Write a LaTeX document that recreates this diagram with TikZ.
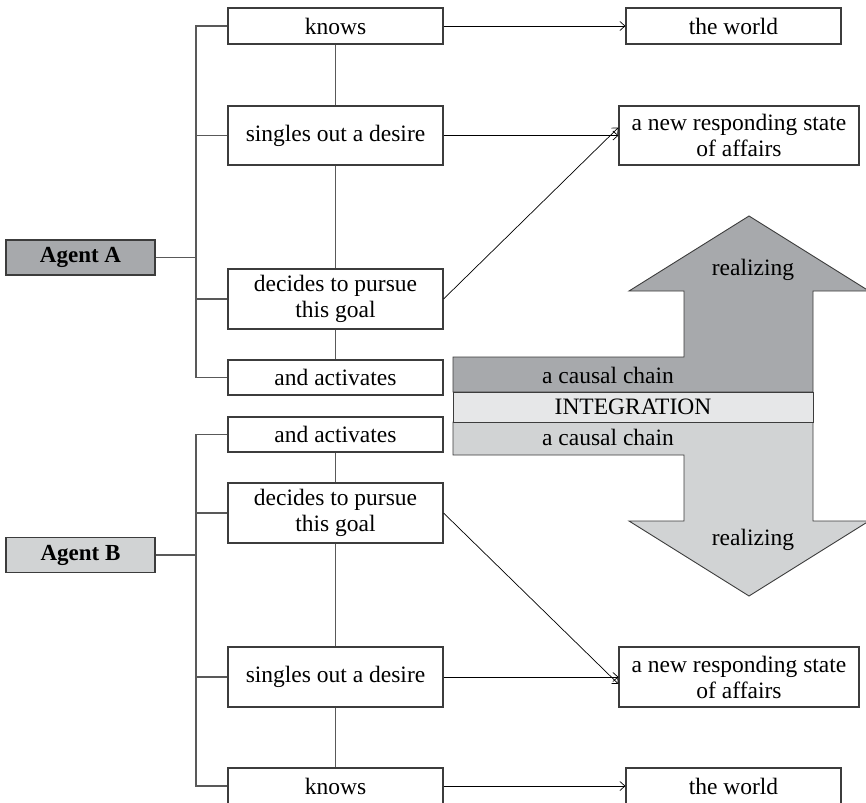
\documentclass[tikz,border=0pt]{standalone}
\usepackage{fontspec}
\setmainfont{Liberation Serif}
\usetikzlibrary{arrows.meta}
\definecolor{agentdark}{HTML}{A7A9AC}
\definecolor{agentlight}{HTML}{D1D3D4}
\definecolor{bandpale}{HTML}{E6E7E8}
\definecolor{rulegray}{HTML}{3C3C3C}
\begin{document}
\begin{tikzpicture}[x=1pt,y=-1pt,
  every node/.style={font=\fontsize{23.5}{26}\selectfont},
  stepbox/.style={draw=rulegray,line width=1.1pt,fill=white,inner sep=0pt,
    minimum width=215pt,align=center},
  widebox/.style={stepbox,minimum width=240pt},
  agentbox/.style={draw=rulegray,line width=1.1pt,inner sep=0pt,
    minimum width=149pt,minimum height=35pt,font=\fontsize{23}{26}\selectfont\bfseries},
  tree/.style={draw=rulegray!85,line width=1.2pt},
  link/.style={draw=black,line width=0.7pt,-{Straight Barb[length=5pt,width=9pt]}},
  bigarrow/.style={draw=rulegray,line width=0.9pt},
  plain/.style={inner sep=0pt}]
\useasboundingbox (0,0) rectangle (866,802);

% ---- integration arrows ----
\path[bigarrow,fill=agentdark] (453,392) -- (453,357) -- (684,357) -- (684,291)
  -- (629,291) -- (749,216) -- (869,291) -- (813,291) -- (813,392) -- cycle;
\path[bigarrow,fill=agentlight] (453,422) -- (813,422) -- (813,521) -- (869,521)
  -- (749,596) -- (629,521) -- (684,521) -- (684,455) -- (453,455) -- cycle;
\path[bigarrow,fill=bandpale] (453,392) rectangle (813,422);
\node[plain] (chainA) at (608,375) {a causal chain};
\node[plain] (integ) at (633,407) {INTEGRATION};
\node[plain] (chainB) at (608,437) {a causal chain};
\node[plain] (realA) at (753,270) {realizing};
\node[plain] (realB) at (753,540) {realizing};

% ---- agent A ----
\node[agentbox,fill=agentdark] (agA) at (80.5,257.5) {Agent A};
\node[stepbox,minimum height=36pt] (knowsA) at (335.5,26) {knows};
\node[stepbox,minimum height=59pt] (singA) at (335.5,135.5) {singles out a desire};
\node[stepbox,minimum height=60pt] (decA) at (335.5,299) {decides to pursue\\this goal};
\node[stepbox,minimum height=35pt] (actA) at (335.5,377.5) {and activates};
\node[stepbox,minimum height=36pt] (worldA) at (733.5,26) {the world};
\node[widebox,minimum height=59pt] (respA) at (739,135.5) {a new responding state\\of affairs};

\coordinate (busA) at (196,257.5);
\draw[tree] (agA.east) -- (busA);
\draw[tree] (knowsA.west) -- (knowsA.west -| busA) |- (actA.west);
\draw[tree] (singA.west) -- (singA.west -| busA);
\draw[tree] (decA.west) -- (decA.west -| busA);
\draw[tree] (knowsA) -- (singA);
\draw[tree] (singA) -- (decA);
\draw[tree] (decA) -- (actA);

\draw[link] (knowsA) -- (worldA);
\draw[link] (singA) -- (respA);
\draw[link] (decA.east) -- ([yshift=8pt]respA.west);

% ---- agent B ----
\node[agentbox,fill=agentlight] (agB) at (80.5,555) {Agent B};
\node[stepbox,minimum height=35pt] (actB) at (335.5,434.5) {and activates};
\node[stepbox,minimum height=60pt] (decB) at (335.5,513) {decides to pursue\\this goal};
\node[stepbox,minimum height=60pt] (singB) at (335.5,677) {singles out a desire};
\node[stepbox,minimum height=36pt] (knowsB) at (335.5,786) {knows};
\node[widebox,minimum height=60pt] (respB) at (739,677) {a new responding state\\of affairs};
\node[stepbox,minimum height=36pt] (worldB) at (733.5,786) {the world};

\coordinate (busB) at (196,555);
\draw[tree] (agB.east) -- (busB);
\draw[tree] (actB.west) -- (actB.west -| busB) |- (knowsB.west);
\draw[tree] (decB.west) -- (decB.west -| busB);
\draw[tree] (singB.west) -- (singB.west -| busB);
\draw[tree] (actB) -- (decB);
\draw[tree] (decB) -- (singB);
\draw[tree] (singB) -- (knowsB);

\draw[link] (knowsB) -- (worldB);
\draw[link] (singB) -- (respB);
\draw[link] (decB.east) -- ([yshift=-7pt]respB.west);
\end{tikzpicture}
\end{document}
